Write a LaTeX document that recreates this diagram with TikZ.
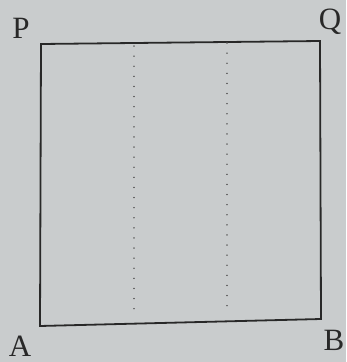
\documentclass[tikz,border=0pt]{standalone}
\usepackage{fontspec}
\setmainfont{Liberation Serif}
\definecolor{paper}{RGB}{201,204,205}
\definecolor{ink}{RGB}{40,40,40}
\tikzset{lbl/.style={text=ink,font=\fontsize{31}{36}\selectfont,inner sep=0pt},
 edge/.style={draw=ink,line width=1.8pt},
 dots/.style={draw=ink!75,line width=1.4pt,dash pattern=on 0.1pt off 10pt,line cap=round}}
\begin{document}
\begin{tikzpicture}[x=1pt,y=-1pt]
\fill[paper] (0,0) rectangle (346,362);
\useasboundingbox (0,0) rectangle (346,362);
\coordinate (P) at (41,44);
\coordinate (Q) at (320,41);
\coordinate (B) at (321,319);
\coordinate (A) at (40,326);
\draw[edge] (P) -- (Q) -- (B) -- (A) -- cycle;
\coordinate (d1t) at (134,46);
\coordinate (d1b) at (134,312);
\coordinate (d2t) at (227,43);
\coordinate (d2b) at (227,310);
\draw[dots] (d1t) -- (d1b);
\draw[dots] (d2t) -- (d2b);
\node[lbl] (lP) at (21,28) {P};
\node[lbl] (lQ) at (330,22) {Q};
\node[lbl] (lA) at (20,346) {A};
\node[lbl] (lB) at (334,340) {B};
\end{tikzpicture}
\end{document}
